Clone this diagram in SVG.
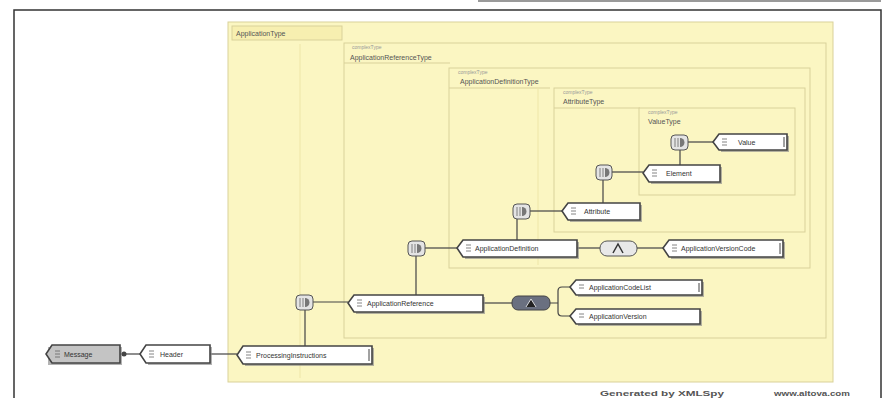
<svg xmlns="http://www.w3.org/2000/svg" width="891" height="398" viewBox="0 0 891 398">
<style>
.box{fill:#fbf6c2;stroke:#d9d19a;stroke-width:1}
.hdr{fill:#f7efb0;stroke:#d9d19a;stroke-width:1}
.lbl{font-family:"Liberation Sans",Arial,sans-serif;font-size:7px;fill:#555}
.sm{font-family:"Liberation Sans",Arial,sans-serif;font-size:5px;fill:#999}
.el{fill:#fff;stroke:#444;stroke-width:1.6}
.elg{fill:#c4c4c4;stroke:#444;stroke-width:1.6}
.sh{fill:#8a8a8a;opacity:.65}
.nt{font-family:"Liberation Sans",Arial,sans-serif;font-size:7px;fill:#333}
.ic{stroke:#666;stroke-width:.8}
.con{stroke:#444;stroke-width:1.2;fill:none}
.cmp{fill:#e4e4e4;stroke:#555;stroke-width:1}
.ft{font-family:"Liberation Sans",Arial,sans-serif;font-size:7.5px;font-weight:bold;fill:#555}
</style>
<rect width="891" height="398" fill="#fff"/>
<line x1="478" y1="1" x2="881" y2="1" stroke="#9a9a9a" stroke-width="2"/>
<path d="M14 398 V10 H881 V398" fill="none" stroke="#333" stroke-width="1.5"/>

<g id="typeA">
<rect class="box" x="228" y="22" width="605" height="360"/>
<rect class="hdr" x="232" y="26" width="110" height="14"/>
<text class="lbl" x="236" y="36">ApplicationType</text>
<line x1="300" y1="44" x2="300" y2="378" stroke="#eee6a8"/>
</g>
<g id="typeB">
<rect class="box" x="344" y="43" width="482" height="295"/>
<text class="sm" x="352" y="49">complexType</text>
<text class="lbl" x="350" y="60">ApplicationReferenceType</text>
<line x1="344" y1="63" x2="450" y2="63" stroke="#d9d19a"/>
</g>
<g id="typeC">
<rect class="box" x="449" y="68" width="361" height="200"/>
<text class="sm" x="458" y="74">complexType</text>
<text class="lbl" x="460" y="84">ApplicationDefinitionType</text>
<line x1="449" y1="88" x2="550" y2="88" stroke="#d9d19a"/>
<line x1="538" y1="88" x2="538" y2="265" stroke="#eee6a8"/>
</g>
<g id="typeD">
<rect class="box" x="554" y="88" width="251" height="144"/>
<text class="sm" x="563" y="94">complexType</text>
<text class="lbl" x="563" y="104">AttributeType</text>
<line x1="554" y1="108" x2="640" y2="108" stroke="#d9d19a"/>
</g>
<g id="typeE">
<rect class="box" x="639" y="108" width="156" height="87"/>
<text class="sm" x="648" y="114">complexType</text>
<text class="lbl" x="648" y="124">ValueType</text>
</g>

<g id="connectors">
<line class="con" x1="120" y1="354" x2="140" y2="354"/>
<line class="con" x1="210" y1="354" x2="237" y2="354"/>
<line class="con" x1="305" y1="346" x2="305" y2="310"/>
<line class="con" x1="313" y1="302" x2="348" y2="302"/>
<line class="con" x1="416" y1="295" x2="416" y2="256"/>
<line class="con" x1="425" y1="248" x2="457" y2="248"/>
<line class="con" x1="483" y1="303" x2="512" y2="303"/>
<path class="con" d="M550 303 H558 M562 287 H570 M562 316 H570 M562 287 Q558 287 558 291 V312 Q558 316 562 316"/>
<line class="con" x1="517" y1="240" x2="517" y2="219"/>
<line class="con" x1="577" y1="248" x2="600" y2="248"/>
<line class="con" x1="637" y1="248" x2="663" y2="248"/>
<line class="con" x1="530" y1="211" x2="562" y2="211"/>
<line class="con" x1="603" y1="203" x2="603" y2="180"/>
<line class="con" x1="612" y1="172" x2="643" y2="172"/>
<line class="con" x1="680" y1="165" x2="680" y2="150"/>
<line class="con" x1="688" y1="142" x2="713" y2="142"/>
<circle cx="124" cy="354" r="2.5" fill="#444"/>
</g>

<g id="c1"><rect class="cmp" x="296" y="295" width="17" height="15" rx="4"/><path d="M300 298v9M303 298v9" class="ic"/><path d="M305 298a4.5 4.5 0 0 1 0 9z" fill="#777"/></g>
<g id="c2"><rect class="cmp" x="408" y="241" width="17" height="15" rx="4"/><path d="M412 244v9M415 244v9" class="ic"/><path d="M417 244a4.5 4.5 0 0 1 0 9z" fill="#777"/></g>
<g id="c3"><rect class="cmp" x="513" y="204" width="17" height="15" rx="4"/><path d="M517 207v9M520 207v9" class="ic"/><path d="M522 207a4.5 4.5 0 0 1 0 9z" fill="#777"/></g>
<g id="c4"><rect class="cmp" x="596" y="165" width="16" height="15" rx="4"/><path d="M600 168v9M603 168v9" class="ic"/><path d="M605 168a4.5 4.5 0 0 1 0 9z" fill="#777"/></g>
<g id="c5"><rect class="cmp" x="671" y="135" width="17" height="15" rx="4"/><path d="M675 138v9M678 138v9" class="ic"/><path d="M680 138a4.5 4.5 0 0 1 0 9z" fill="#777"/></g>

<g id="x1"><rect x="512" y="296" width="38" height="14" rx="6" fill="#6a7080" stroke="#444"/><path d="M526 307l5-8 5 8" fill="#222" stroke="#fff" stroke-width=".8"/></g>
<g id="x2"><rect x="600" y="241" width="37" height="15" rx="7" fill="#e8e8e8" stroke="#555"/><path d="M613 253l5-9 5 9" fill="none" stroke="#333" stroke-width="1.5"/></g>

<g id="n1"><path class="sh" d="M48 347H122V365H48Z"/><path class="elg" d="M52 345H120V363H52L46 354Z"/><path class="ic" d="M55 351h5M55 354h5M55 357h5"/><text class="nt" x="64" y="357">Message</text></g>
<g id="n2"><path class="sh" d="M148 347H212V365H148Z"/><path class="el" d="M146 345H210V363H146L140 354Z"/><path class="ic" d="M149 351h5M149 354h5M149 357h5"/><text class="nt" x="160" y="357">Header</text></g>
<g id="n3"><path class="sh" d="M245 348H374V366H245Z"/><path class="el" d="M243 346H372V364H243L237 355Z"/><path class="ic" d="M246 352h5M246 355h5M246 358h5"/><text class="nt" x="256" y="358">ProcessingInstructions</text><path d="M369 349v12" stroke="#444"/></g>
<g id="n4"><path class="sh" d="M356 297H485V314H356Z"/><path class="el" d="M354 295H483V312H354L348 303Z"/><path class="ic" d="M357 300h5M357 303h5M357 306h5"/><text class="nt" x="367" y="306">ApplicationReference</text></g>
<g id="n5"><path class="sh" d="M578 282H704V297H578Z"/><path class="el" d="M576 280H702V295H576L570 287Z"/><path class="ic" d="M579 285h5M579 288h5"/><text class="nt" x="589" y="290">ApplicationCodeList</text><path d="M699 283v9" stroke="#444"/></g>
<g id="n6"><path class="sh" d="M578 311H702V326H578Z"/><path class="el" d="M576 309H700V324H576L570 316Z"/><path class="ic" d="M579 314h5M579 317h5"/><text class="nt" x="589" y="319">ApplicationVersion</text></g>
<g id="n7"><path class="sh" d="M465 242H579V259H465Z"/><path class="el" d="M463 240H577V257H463L457 248Z"/><path class="ic" d="M466 245h5M466 248h5M466 251h5"/><text class="nt" x="475" y="251">ApplicationDefinition</text></g>
<g id="n8"><path class="sh" d="M671 242H785V259H671Z"/><path class="el" d="M669 240H783V257H669L663 248Z"/><path class="ic" d="M672 245h5M672 248h5M672 251h5"/><text class="nt" x="681" y="251">ApplicationVersionCode</text><path d="M780 243v11" stroke="#444"/></g>
<g id="n9"><path class="sh" d="M570 205H642V222H570Z"/><path class="el" d="M568 203H640V220H568L562 211Z"/><path class="ic" d="M571 208h5M571 211h5M571 214h5"/><text class="nt" x="584" y="214">Attribute</text></g>
<g id="n10"><path class="sh" d="M651 167H722V184H651Z"/><path class="el" d="M649 165H720V182H649L643 173Z"/><path class="ic" d="M652 170h5M652 173h5M652 176h5"/><text class="nt" x="666" y="176">Element</text></g>
<g id="n11"><path class="sh" d="M721 136H789V152H721Z"/><path class="el" d="M719 134H787V150H719L713 142Z"/><path class="ic" d="M722 139h5M722 142h5M722 145h5"/><text class="nt" x="738" y="145">Value</text><path d="M784 137v10" stroke="#444"/></g>

<text class="ft" x="600" y="396" textLength="124" lengthAdjust="spacingAndGlyphs">Generated by XMLSpy</text>
<text class="ft" x="774" y="396" textLength="76" lengthAdjust="spacingAndGlyphs">www.altova.com</text>
</svg>
